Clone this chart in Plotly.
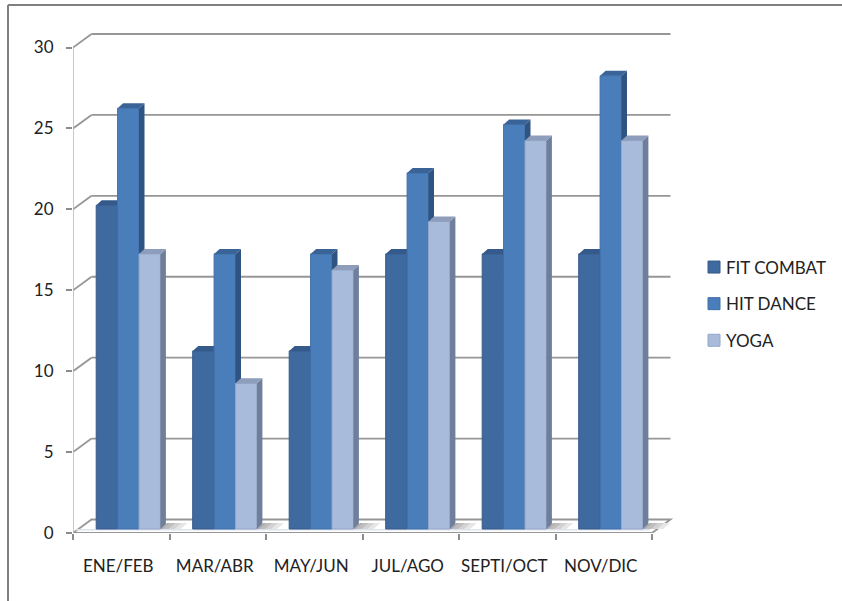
import plotly.graph_objects as go

categories = ["ENE/FEB", "MAR/ABR", "MAY/JUN", "JUL/AGO", "SEPTI/OCT", "NOV/DIC"]
fit_combat = [20, 11, 11, 17, 17, 17]
hit_dance = [26, 17, 17, 22, 25, 28]
yoga = [17, 9, 16, 19, 24, 24]
series_names = ["FIT COMBAT", "HIT DANCE", "YOGA"]
series_values = [fit_combat, hit_dance, yoga]
y_ticks = [0, 5, 10, 15, 20, 25, 30]

W, H = 842, 601
L, R, T, B = 73, 675, 30, 533      # plot box in px
PX_PER_CAT = (652 - 73) / 6
PX_PER_VAL = (533 - 47.5) / 30
XMAX = (R - L) / PX_PER_CAT
YMAX = (B - T) / PX_PER_VAL
WALL_DX = 18.5 / PX_PER_CAT
WALL_DY = 13.5 / PX_PER_VAL
BAR_DX = 5.5 / PX_PER_CAT
BAR_DY = 5 / PX_PER_VAL
BASE = 4 / PX_PER_VAL
BAR_W = 21.4 / PX_PER_CAT
GROUP_START = 23.2 / PX_PER_CAT
LABEL_SHIFT = -3 / PX_PER_CAT

front = ["#3F6A9F", "#4A7EBB", "#A9BBDA"]
edge = ["#36598A", "#3F6EA8", "#93A6C8"]
side = ["#2E4E78", "#2F5482", "#6F7F9B"]
top = ["#345A8C", "#3A6497", "#8D9DBB"]
GRID = "#969696"
FONT = "Lato"

fig = go.Figure()

for s, (name, vals) in enumerate(zip(series_names, series_values)):
    suffix = "" if s == 0 else str(s + 1)
    xa, ya = "x" + suffix, "y" + suffix
    xs = [i + GROUP_START + BAR_W * s + BAR_W / 2 for i in range(len(vals))]
    fig.add_trace(go.Bar(
        x=xs, y=vals, base=BASE, width=BAR_W, name=name,
        marker=dict(color=front[s], line=dict(color=edge[s], width=1)),
        xaxis=xa, yaxis=ya, legendgroup=name, customdata=categories,
    ))
    for cx, v in zip(xs, vals):
        xl, xr = cx - BAR_W / 2, cx + BAR_W / 2
        yt = BASE + v
        fig.add_trace(go.Scatter(
            x=[xr, xr + BAR_DX, xr + BAR_DX, xr, xr], y=[BASE, BASE + BAR_DY, yt + BAR_DY, yt, BASE],
            fill="toself", fillcolor=side[s], mode="lines", line=dict(width=0),
            showlegend=False, hoverinfo="skip", xaxis=xa, yaxis=ya))
        fig.add_trace(go.Scatter(
            x=[xl, xr, xr + BAR_DX, xl + BAR_DX, xl], y=[yt, yt, yt + BAR_DY, yt + BAR_DY, yt],
            fill="toself", fillcolor=top[s], mode="lines", line=dict(width=0),
            showlegend=False, hoverinfo="skip", xaxis=xa, yaxis=ya))

shapes = []
# frame
shapes.append(dict(type="line", xref="paper", yref="paper", x0=(8 - L) / (R - L), x1=(W - L) / (R - L),
                   y0=(B - 5) / (B - T), y1=(B - 5) / (B - T), line=dict(color="#808080", width=2)))
shapes.append(dict(type="line", xref="paper", yref="paper", x0=(8 - L) / (R - L), x1=(8 - L) / (R - L),
                   y0=(B - 5) / (B - T), y1=(B - H) / (B - T), line=dict(color="#808080", width=2)))
# gridlines on the back wall
for t in y_ticks[1:]:
    shapes.append(dict(type="line", x0=0, y0=t, x1=WALL_DX, y1=t + WALL_DY, layer="below", line=dict(color=GRID, width=1.8)))
    shapes.append(dict(type="line", x0=WALL_DX, y0=t + WALL_DY, x1=6 + WALL_DX, y1=t + WALL_DY, layer="below", line=dict(color=GRID, width=1.8)))
# floor
shapes.append(dict(type="path", path=f"M 0 0 L {WALL_DX} {WALL_DY} L {6 + WALL_DX} {WALL_DY} L 6 0 Z", layer="below",
                   fillcolor="white", line=dict(color=GRID, width=1.8)))
shapes.append(dict(type="line", x0=0.03, y0=BASE - 0.05, x1=5.98, y1=BASE - 0.05, layer="below", line=dict(color="#DCE3EC", width=1.5)))
# left axis line
shapes.append(dict(type="line", x0=0, y0=0, x1=0, y1=30, layer="below", line=dict(color="#B5B5B5", width=1.5)))
# shadows on the floor (stepped fade to the right of each group)
SHADOW_DX = 7 / PX_PER_CAT
SHADOW_DY = 6 / PX_PER_VAL
for i in range(len(categories)):
    xr = i + GROUP_START + BAR_W * 3
    for reach, colr in ((27, "#E6E6E6"), (21, "#D2D2D2"), (15, "#BDBDBD"), (9, "#A8A8A8")):
        d = reach / PX_PER_CAT
        shapes.append(dict(type="path",
                           path=f"M {xr} {BASE} L {xr + SHADOW_DX} {BASE + SHADOW_DY} L {xr + d} {BASE + SHADOW_DY} L {xr + d - SHADOW_DX} {BASE} Z",
                           layer="below", fillcolor=colr, line=dict(width=0)))

common_x = dict(range=[0, XMAX], showgrid=False, zeroline=False)
common_y = dict(range=[0, YMAX], showgrid=False, zeroline=False)

layout = dict(
    width=W, height=H, autosize=False,
    margin=dict(l=L, r=W - R, t=T, b=H - B, pad=0),
    paper_bgcolor="white", plot_bgcolor="rgba(0,0,0,0)",
    showlegend=True, barmode="overlay", shapes=shapes,
    font=dict(family=FONT, size=17, color="#222222"),
    legend=dict(x=694 / W, xref="container", y=1 - 249.5 / H, yref="container", yanchor="top", xanchor="left",
                tracegroupgap=11.5, traceorder="grouped", itemwidth=30, font=dict(size=17)),
    xaxis=dict(**common_x, tickmode="array", tickvals=[i + 0.5 + LABEL_SHIFT for i in range(len(categories))], ticktext=categories,
               ticks="outside", ticklen=18, tickcolor="rgba(0,0,0,0)", showline=False,
               minor=dict(tickmode="array", tickvals=list(range(len(categories) + 1)), ticks="outside", ticklen=6,
                          tickcolor="#8C8C8C", tickwidth=1.5)),
    yaxis=dict(**common_y, tickmode="array", tickvals=y_ticks, ticks="outside", ticklen=6, tickcolor="#8C8C8C",
               tickwidth=1.5, showline=False, ticklabelstandoff=9),
    xaxis2=dict(**common_x, overlaying="x", visible=False),
    yaxis2=dict(**common_y, overlaying="y", visible=False),
    xaxis3=dict(**common_x, overlaying="x", visible=False),
    yaxis3=dict(**common_y, overlaying="y", visible=False),
)
fig.update_layout(**layout)
post = """
document.body.style.margin = '0';
document.querySelectorAll('.legendtext').forEach(function (t) { t.setAttribute('x', 32); });
"""
fig.write_html("out.html", post_script=post, config={"displayModeBar": False})
